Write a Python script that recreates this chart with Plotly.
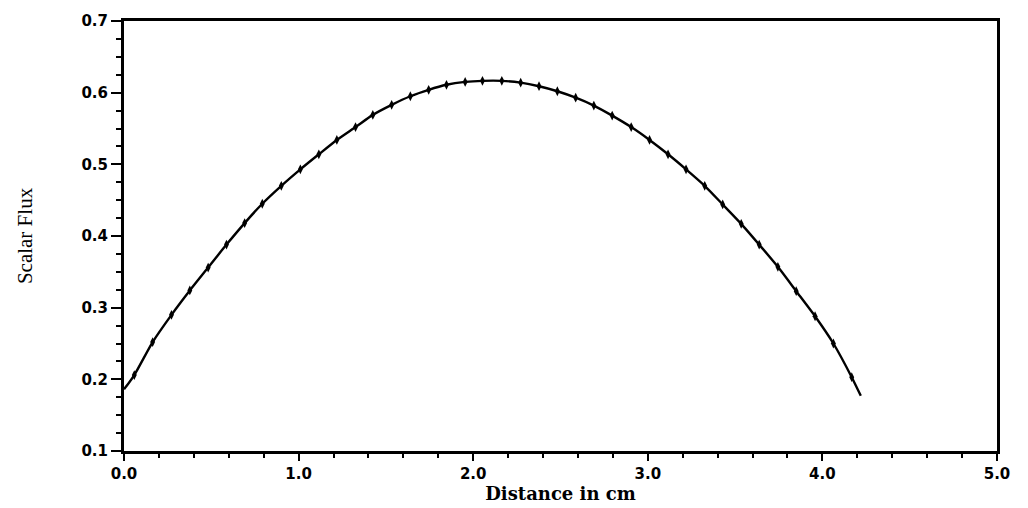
import plotly.graph_objects as go

# Cell-centre positions (cm) and scalar flux values
x_centres = [0.059, 0.164, 0.272, 0.377, 0.482, 0.587, 0.691, 0.792, 0.901, 1.010,
             1.116, 1.219, 1.326, 1.425, 1.533, 1.640, 1.745, 1.847, 1.954, 2.053,
             2.164, 2.272, 2.377, 2.482, 2.587, 2.691, 2.796, 2.905, 3.010, 3.116,
             3.219, 3.326, 3.429, 3.535, 3.638, 3.745, 3.850, 3.958, 4.063, 4.168]
flux = [0.206, 0.252, 0.290, 0.324, 0.356, 0.388, 0.418, 0.445, 0.470, 0.493,
        0.514, 0.534, 0.552, 0.569, 0.583, 0.595, 0.604, 0.611, 0.615, 0.6165,
        0.6165, 0.614, 0.609, 0.602, 0.593, 0.582, 0.568, 0.552, 0.534, 0.514,
        0.493, 0.470, 0.444, 0.417, 0.388, 0.357, 0.323, 0.288, 0.250, 0.203]

# Boundary values of the slab
x_edges = [0.0, 4.22]
flux_edges = [0.186, 0.177]

x_ticks = [0, 1, 2, 3, 4, 5]
y_ticks = [0.1, 0.2, 0.3, 0.4, 0.5, 0.6, 0.7]

line_x = [x_edges[0]] + x_centres + [x_edges[1]]
line_y = [flux_edges[0]] + flux + [flux_edges[1]]

fig = go.Figure()
fig.add_trace(go.Scatter(
    x=line_x, y=line_y, mode="lines",
    line=dict(color="black", width=2.4, shape="spline", smoothing=0.6),
    hoverinfo="skip", showlegend=False, cliponaxis=False,
))
fig.add_trace(go.Scatter(
    x=x_centres, y=flux, mode="markers",
    marker=dict(symbol="diamond-tall", size=7, color="black"),
    showlegend=False, cliponaxis=False,
))

tick_font = dict(family="DejaVu Sans", size=15, color="black", weight="bold")

fig.update_layout(
    width=1028, height=508,
    margin=dict(l=124, r=31, t=15, b=55),
    paper_bgcolor="white", plot_bgcolor="white",
    xaxis=dict(
        range=[0, 5], tickvals=x_ticks, tickformat=".1f",
        ticks="outside", ticklen=7, tickwidth=2, tickcolor="black",
        showline=True, linewidth=3, linecolor="black", mirror=True,
        showgrid=False, zeroline=False, tickfont=tick_font,
        minor=dict(dtick=0.2, ticks="outside", ticklen=4, tickwidth=2,
                   tickcolor="black", showgrid=False),
        title=dict(text="Distance in cm", standoff=0,
                   font=dict(family="DejaVu Serif", size=18, color="black",
                             weight="bold")),
    ),
    yaxis=dict(
        range=[0.1, 0.7], tickvals=y_ticks, tickformat=".1f",
        ticks="outside", ticklen=10, tickwidth=2, tickcolor="black",
        showline=True, linewidth=3, linecolor="black", mirror=True,
        showgrid=False, zeroline=False, tickfont=tick_font,
        minor=dict(dtick=0.025, tick0=0.1, ticks="outside", ticklen=5,
                   tickwidth=2, tickcolor="black", showgrid=False),
        title=dict(text="Scalar Flux", standoff=44,
                   font=dict(family="Liberation Serif", size=21, color="black")),
    ),
)

fig.write_html("out.html")
